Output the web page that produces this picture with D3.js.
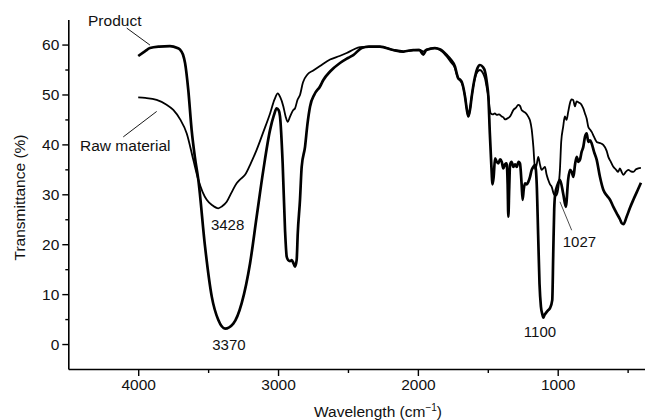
<!DOCTYPE html>
<html>
<head>
<meta charset="utf-8">
<script src="https://cdn.jsdelivr.net/npm/d3@7"></script>
<style>
  html, body { margin: 0; padding: 0; background: #fff; }
  svg { display: block; font-family: "Liberation Sans", Arial, sans-serif; }
</style>
</head>
<body>
<svg id="chart" width="645" height="420"></svg>
<script>
// ---- Data (wavenumber in cm^-1, transmittance in %) ----
const productWn = [4000,3950,3916,3850,3773,3720,3701,3680,3665,3642,3618,3595,3570,3522,3474,3427,3379,3320,3260,3200,3153,3105,3057,3030,3010,2995,2986,2967,2950,2938,2927,2915,2902,2890,2879,2867,2859,2843,2831,2807,2790,2771,2740,2700,2676,2628,2557,2500,2462,2402,2350,2271,2176,2104,2033,1990,1961,1940,1878,1840,1794,1765,1735,1722,1711,1700,1686,1663,1650,1639,1627,1615,1591,1575,1556,1535,1520,1505,1496,1485,1475,1466,1458,1448,1436,1425,1412,1400,1389,1377,1365,1358,1353,1347,1341,1330,1317,1305,1293,1280,1270,1258,1251,1243,1234,1222,1210,1198,1186,1174,1162,1150,1140,1130,1120,1110,1103,1095,1085,1068,1055,1039,1032,1025,1019,1000,984,960,942,925,912,900,888,876,864,852,841,829,817,805,793,781,769,757,740,721,698,674,650,626,602,578,555,542,530,507,483,459,430,405];
const productT  = [57.7,58.7,59.3,59.6,59.7,59.3,59.0,58.0,56.3,50.9,42.9,37.5,32.9,19.5,9.5,4.8,3.1,4.1,8.2,16.2,25.5,34.9,42.9,45.8,47.2,46.8,45.6,36.2,22.8,17.5,16.8,16.6,16.8,16.2,15.5,16.8,22.2,28.9,35.5,39.5,44.0,47.6,50.0,51.6,52.9,54.6,56.3,57.3,57.9,59.3,59.6,59.6,58.9,58.6,58.9,58.9,58.0,58.9,59.3,59.0,57.9,57.0,55.6,54.2,53.2,53.0,52.5,49.6,47.0,45.6,47.0,49.6,53.6,55.2,55.9,55.5,54.6,52.0,49.6,42.0,36.0,32.0,33.5,37.2,36.5,36.2,37.0,36.5,35.2,36.0,36.2,32.0,25.5,31.0,35.9,36.5,35.5,36.0,35.5,36.5,36.2,32.0,28.9,31.0,32.2,32.0,32.5,33.5,34.9,35.5,35.9,32.0,22.0,12.0,7.5,6.0,5.3,5.8,6.2,6.8,7.2,8.8,18.0,27.0,29.8,32.0,32.9,30.0,27.5,33.0,34.9,34.5,33.5,36.0,37.5,36.5,36.9,38.5,39.5,41.5,42.2,40.5,40.8,40.2,38.5,36.9,33.5,30.9,29.8,28.9,27.5,26.2,25.0,24.2,24.0,25.5,27.3,28.9,30.7,32.3];

const rawWn = [4000,3950,3868,3800,3749,3700,3653,3606,3570,3540,3510,3470,3427,3400,3367,3330,3296,3270,3236,3195,3153,3105,3057,3025,3002,2985,2962,2945,2931,2915,2891,2879,2860,2843,2822,2790,2748,2700,2628,2560,2509,2460,2414,2350,2271,2176,2104,2033,1990,1961,1940,1878,1840,1794,1765,1735,1722,1711,1700,1686,1663,1650,1639,1627,1615,1591,1575,1556,1535,1520,1505,1496,1488,1479,1465,1450,1436,1420,1400,1388,1377,1360,1341,1329,1317,1300,1282,1270,1258,1246,1230,1210,1198,1186,1174,1162,1150,1139,1127,1115,1103,1091,1080,1068,1055,1043,1027,1015,1007,997,984,975,961,949,937,925,913,901,889,877,865,850,829,817,805,793,781,769,757,740,721,700,674,650,638,620,602,585,567,555,543,531,513,495,477,459,440,424,405];
const rawT  = [49.4,49.3,48.9,48.0,46.9,45.0,42.2,36.9,32.9,30.5,28.9,27.8,27.2,27.6,28.5,30.5,32.2,33.0,33.9,36.2,38.9,42.5,46.2,49.0,50.2,49.5,47.6,45.5,44.5,45.5,46.9,47.2,49.0,49.9,52.4,54.0,54.8,55.7,57.0,57.7,58.3,59.0,59.5,59.6,59.6,58.9,58.6,58.9,59.0,58.6,59.0,59.3,58.9,57.6,56.5,55.3,54.0,53.2,52.8,52.3,49.6,47.0,45.6,47.0,49.6,53.3,54.5,54.9,54.3,53.2,51.0,49.6,47.5,46.2,46.0,46.2,45.9,46.0,45.6,45.4,45.0,45.2,45.6,46.2,46.9,47.3,47.9,47.7,46.9,46.6,46.3,45.5,44.8,43.0,39.5,35.0,36.0,37.5,36.0,34.9,35.2,35.5,34.0,32.9,32.0,31.5,30.0,29.7,29.9,31.0,35.0,40.5,43.5,45.6,44.9,46.5,48.2,49.0,48.9,47.6,48.6,48.4,47.9,47.2,46.2,45.2,43.5,43.0,42.5,41.5,40.5,40.3,39.9,38.7,37.5,36.5,35.5,35.0,34.5,35.2,34.5,33.9,34.5,34.9,34.6,34.5,35.0,35.2,35.3];

const yMajorTicks = [0, 10, 20, 30, 40, 50, 60];
const yMinorTicks = [5, 15, 25, 35, 45, 55];
const xMajorTicks = [4000, 3000, 2000, 1000];
const xMinorTicks = [3500, 2500, 1500, 500];

// series labels with leader lines (data coordinates)
const seriesLabels = [
  { text: "Product",      wn: 4359, t: 63.8, from: [4082, 63.3], to: [3916, 59.9] },
  { text: "Raw material", wn: 4416, t: 38.7, from: [4107, 41.5], to: [3868, 46.6] }
];
// peak annotations (data coordinates)
const peakLabels = [
  { text: "3428", wn: 3361, t: 22.8, anchor: "middle" },
  { text: "3370", wn: 3351, t: -1.2, anchor: "middle" },
  { text: "1100", wn: 1127, t: 1.5,  anchor: "middle" },
  { text: "1027", wn: 964,  t: 19.4, anchor: "start", from: [984, 28.5], to: [900, 22.8] }
];

// ---- Chart ----
const svg = d3.select("#chart");
const x = d3.scaleLinear().domain([4500, 375]).range([68.3, 645.1]);
const y = d3.scaleLinear().domain([-5, 65]).range([369, 19.6]);
const FS = "15.5px";

// axes
svg.append("g").attr("transform", `translate(${x.range()[0]},0)`)
  .call(d3.axisLeft(y).tickValues(yMajorTicks).tickSize(6).tickPadding(3).tickSizeOuter(0));
svg.append("g").attr("transform", `translate(${x.range()[0]},0)`)
  .call(d3.axisLeft(y).tickValues(yMinorTicks).tickSize(3).tickFormat("").tickSizeOuter(0))
  .select(".domain").remove();
svg.append("g").attr("transform", `translate(0,${y.range()[0]})`)
  .call(d3.axisBottom(x).tickValues(xMajorTicks).tickSize(7).tickPadding(3).tickSizeOuter(0).tickFormat(d3.format("d")));
svg.append("g").attr("transform", `translate(0,${y.range()[0]})`)
  .call(d3.axisBottom(x).tickValues(xMinorTicks).tickSize(4).tickFormat("").tickSizeOuter(0))
  .select(".domain").remove();

svg.selectAll(".domain").attr("stroke", "#000").attr("stroke-width", 1.6);
svg.selectAll(".tick line").attr("stroke", "#000").attr("stroke-width", 1.4);
svg.selectAll(".tick text").attr("font-size", FS).attr("fill", "#111")
  .attr("font-family", "Liberation Sans, Arial, sans-serif");

// axis titles
svg.append("text")
  .attr("transform", `translate(25,197.5) rotate(-90)`)
  .attr("text-anchor", "middle").attr("font-size", FS).attr("fill", "#111")
  .text("Transmittance (%)");
const xt = svg.append("text")
  .attr("x", 442).attr("y", 417).attr("text-anchor", "end")
  .attr("font-size", FS).attr("fill", "#111");
xt.append("tspan").text("Wavelength (cm");
xt.append("tspan").attr("font-size", "10px").attr("dy", "-6").text("\u22121");
xt.append("tspan").attr("dy", "6").text(")");

// curves
const line = d3.line().x(d => x(d[0])).y(d => y(d[1])).curve(d3.curveMonotoneX);
const rawData = rawWn.map((w, i) => [w, rawT[i]]);
const productData = productWn.map((w, i) => [w, productT[i]]);

svg.append("path").datum(rawData).attr("d", line)
  .attr("fill", "none").attr("stroke", "#000").attr("stroke-width", 1.8)
  .attr("stroke-linejoin", "round");
svg.append("path").datum(productData).attr("d", line)
  .attr("fill", "none").attr("stroke", "#000").attr("stroke-width", 2.7)
  .attr("stroke-linejoin", "round");

// series labels
seriesLabels.forEach(s => {
  svg.append("text").attr("x", x(s.wn)).attr("y", y(s.t))
    .attr("font-size", FS).attr("fill", "#111").text(s.text);
  svg.append("line")
    .attr("x1", x(s.from[0])).attr("y1", y(s.from[1]))
    .attr("x2", x(s.to[0])).attr("y2", y(s.to[1]))
    .attr("stroke", "#000").attr("stroke-width", 0.9);
});

// peak labels
peakLabels.forEach(p => {
  svg.append("text").attr("x", x(p.wn)).attr("y", y(p.t))
    .attr("text-anchor", p.anchor)
    .attr("font-size", "15px").attr("fill", "#111").text(p.text);
  if (p.from) {
    svg.append("line")
      .attr("x1", x(p.from[0])).attr("y1", y(p.from[1]))
      .attr("x2", x(p.to[0])).attr("y2", y(p.to[1]))
      .attr("stroke", "#000").attr("stroke-width", 0.7);
  }
});
</script>
</body>
</html>
